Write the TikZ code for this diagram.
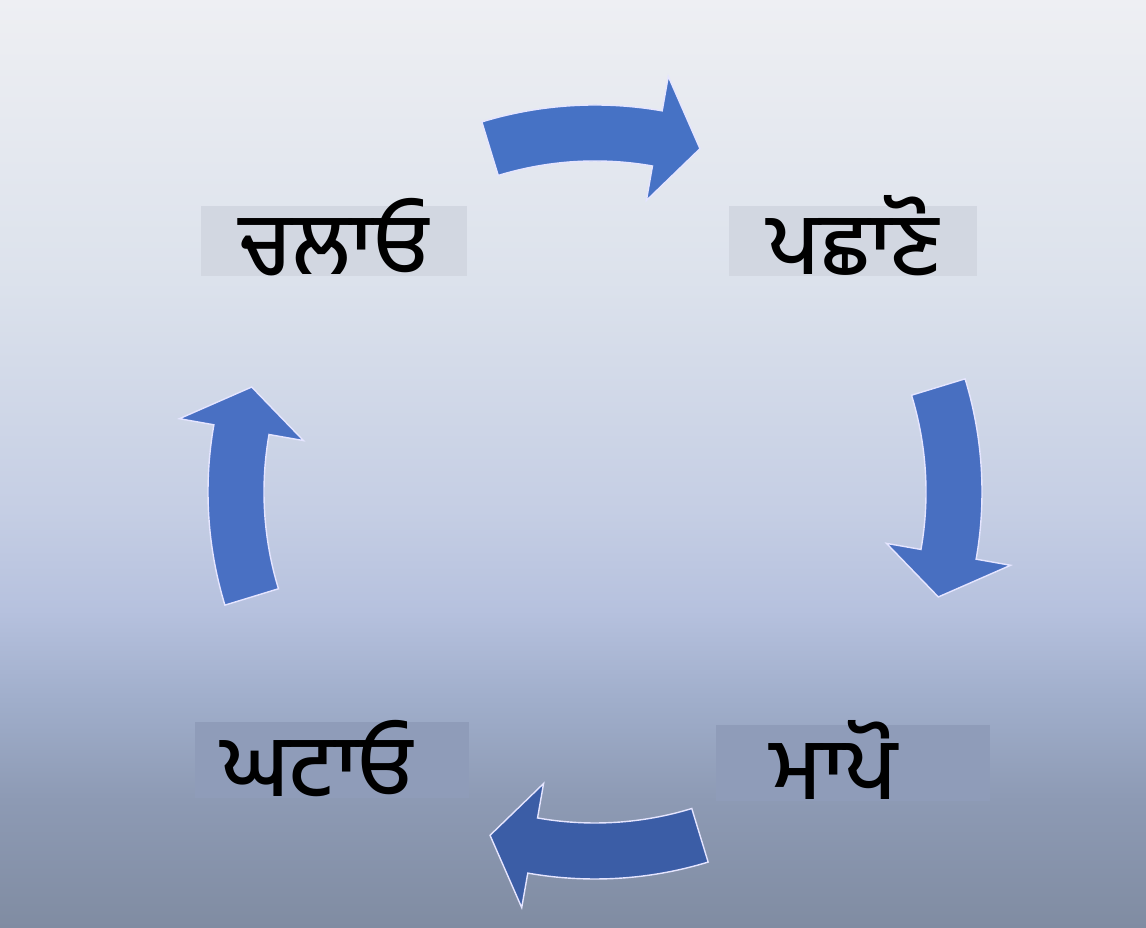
\documentclass[tikz,border=0pt]{standalone}
\usepackage{fontspec}
\newfontfamily\gurmukhi[Script=Gurmukhi]{Hind Jalandhar Medium}
\usepackage{tikz}
\usetikzlibrary{calc,positioning}
\definecolor{bgA}{HTML}{EEEFF3}
\definecolor{bgB}{HTML}{DCE2EC}
\definecolor{bgC}{HTML}{C5CEE4}
\definecolor{bgD}{HTML}{B6C1DE}
\definecolor{bgE}{HTML}{A0AECB}
\definecolor{bgF}{HTML}{8D9AB4}
\definecolor{bgG}{HTML}{808CA2}
\definecolor{boxtop}{HTML}{D2D7E1}
\definecolor{boxbot}{HTML}{8F9CB9}
\definecolor{arrowtop}{HTML}{4672C5}
\definecolor{arrowright}{HTML}{486FC1}
\definecolor{arrowbot}{HTML}{3B5DA6}
\definecolor{arrowleft}{HTML}{4970C3}
\pgfdeclareverticalshading{bgshade}{100bp}{color(0bp)=(bgG); color(25bp)=(bgG); color(31.9bp)=(bgF); color(37.3bp)=(bgE); color(42.1bp)=(bgD); color(47.5bp)=(bgC); color(59.9bp)=(bgB); color(75bp)=(bgA); color(100bp)=(bgA)}
\tikzset{
  cyclearrow/.style={draw=white!90!blue, line width=0.8pt, line join=miter},
  labelbox/.style={inner xsep=0pt, inner ysep=0pt, text height=1.38cm, text depth=0.02cm, anchor=base, font=\gurmukhi\fontsize{49}{51}\selectfont},
  lowbox/.style={labelbox, text height=1.5cm, fill=boxbot, minimum width=5.5cm}
}
\begin{document}
\begin{tikzpicture}[x=0.02cm,y=0.02cm]
\pgfmathsetmacro{\R}{359}
\pgfmathsetmacro{\Ro}{387}
\pgfmathsetmacro{\Ri}{331}
\pgfmathsetmacro{\Rho}{422}
\pgfmathsetmacro{\Rhi}{296}
\shade[shading=bgshade] (0,0) rectangle (1146,928);
\coordinate (c) at (595,436);
\node[labelbox, fill=boxtop, minimum width=5.32cm] (chalao) at (334,653) {ਚਲਾਓ};
\node[labelbox, fill=boxtop, minimum width=4.98cm] (pachhano) at (853,653) {ਪਛਾਣੋ};
\node[lowbox] (mapo) at (853,128) {ਮਾਪੋ\kern0.76cm};
\node[lowbox] (ghatao) at (332,131) {ਘਟਾਓ\kern0.6cm};
\draw[cyclearrow, fill=arrowtop, shift={(c)}] (107:\Ro) arc (107:80:\Ro) -- (80:\Rho) -- (73:\R) -- (80:\Rhi) -- (80:\Ri) arc (80:107:\Ri) -- cycle;
\draw[cyclearrow, fill=arrowright, shift={(c)}] (17:\Ro) arc (17:-10:\Ro) -- (-10:\Rho) -- (-17:\R) -- (-10:\Rhi) -- (-10:\Ri) arc (-10:17:\Ri) -- cycle;
\draw[cyclearrow, fill=arrowbot, shift={(c)}] (-73:\Ro) arc (-73:-100:\Ro) -- (-100:\Rho) -- (-107:\R) -- (-100:\Rhi) -- (-100:\Ri) arc (-100:-73:\Ri) -- cycle;
\draw[cyclearrow, fill=arrowleft, shift={(c)}] (197:\Ro) arc (197:170:\Ro) -- (170:\Rho) -- (163:\R) -- (170:\Rhi) -- (170:\Ri) arc (170:197:\Ri) -- cycle;
\end{tikzpicture}
\end{document}
